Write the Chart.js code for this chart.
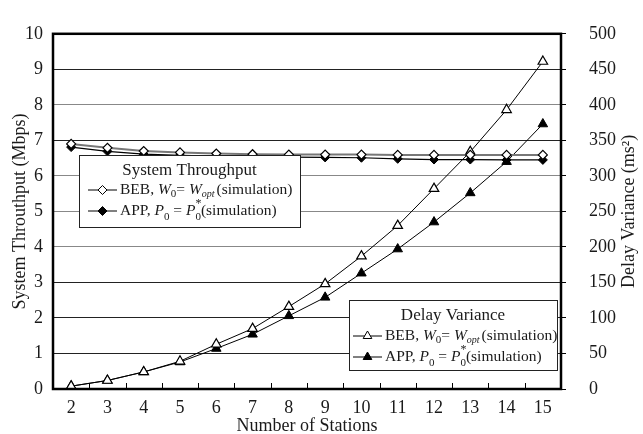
<!DOCTYPE html>
<html>
<head>
<meta charset="utf-8">
<script src="https://cdn.jsdelivr.net/npm/chart.js@4.4.0/dist/chart.umd.min.js"></script>
<style>
  html, body { margin: 0; padding: 0; background: #fff; }
</style>
</head>
<body>
<canvas id="c" width="643" height="434"></canvas>
<script>
// data
let stations = [2, 3, 4, 5, 6, 7, 8, 9, 10, 11, 12, 13, 14, 15];
let tpBEB = [6.90, 6.79, 6.70, 6.66, 6.63, 6.61, 6.60, 6.60, 6.60, 6.59, 6.59, 6.59, 6.59, 6.59];
let tpAPP = [6.81, 6.69, 6.61, 6.58, 6.56, 6.54, 6.53, 6.52, 6.51, 6.48, 6.46, 6.46, 6.45, 6.45];
let dvBEB = [4, 12, 24, 39, 63, 85, 116, 148, 187, 230, 282, 334, 393, 461];
let dvAPP = [4, 12, 24, 38, 57, 77, 103, 129, 163, 197, 235, 276, 320, 373];
let leftMax = 10, rightMax = 500;

const serif = "'Liberation Serif', 'Times New Roman', serif";
const ink = '#1a1a1a';

// writes a row of text pieces (normal / italic / sub / super)
const runs = (ctx, x, y, parts) => {
    parts.forEach(p => {
        ctx.font = (p.i ? 'italic ' : '') + (p.s || 15.5) + 'px ' + serif;
        ctx.fillText(p.t, x, y + (p.dy || 0));
        if (!p.keep) x += ctx.measureText(p.t).width + (p.gap || 0);
    });
}

const beb = [
    {t: 'BEB, '}, {t: 'W', i: true}, {t: '0', s: 11, dy: 4}, {t: '= '},
    {t: 'W', i: true}, {t: 'opt', i: true, s: 10, dy: 4, gap: 2}, {t: '(simulation)'}
];
const app = [
    {t: 'APP, '}, {t: 'P', i: true}, {t: '0', s: 11, dy: 6}, {t: ' = '},
    {t: 'P', i: true}, {t: '*', s: 12, dy: -7, keep: true}, {t: '0', s: 11, dy: 6},
    {t: '(simulation)'}
];

const drawKey = (ctx, x, y, style, fill) => {
    ctx.strokeStyle = '#000';
    ctx.lineWidth = 1;
    ctx.beginPath();
    ctx.moveTo(x, y); ctx.lineTo(x + 29, y);
    ctx.stroke();
    ctx.fillStyle = fill;
    Chart.helpers.drawPoint(ctx, {pointStyle: style, radius: style == 'triangle' ? 5 : 4.5, rotation: 0, borderWidth: 1.2}, x + 14.5, y);
}

const drawBox = (ctx, box, title, style, rowY, kx) => {
    ctx.fillStyle = '#fff';
    ctx.fillRect(box[0], box[1], box[2] - box[0], box[3] - box[1]);
    ctx.strokeStyle = '#222';
    ctx.lineWidth = 1;
    ctx.strokeRect(box[0] + .5, box[1] + .5, box[2] - box[0], box[3] - box[1]);
    ctx.fillStyle = ink;
    ctx.textBaseline = 'middle';
    ctx.textAlign = 'center';
    ctx.font = '17px ' + serif;
    ctx.fillText(title, (box[0] + box[2]) / 2, box[1] + 16);
    ctx.textAlign = 'left';
    drawKey(ctx, kx, rowY[0], style, '#fff');
    drawKey(ctx, kx, rowY[1], style, '#000');
    ctx.fillStyle = ink;
    runs(ctx, kx + 32, rowY[0], beb);
    runs(ctx, kx + 32, rowY[1], app);
}

const decor = {
    id: 'decor',
    afterDraw(chart) {
        let ctx = chart.ctx, a = chart.chartArea, xs = chart.scales.x;
        ctx.save();
        // small inner ticks between stations
        let step = xs.getPixelForValue(1) - xs.getPixelForValue(0);
        ctx.strokeStyle = '#000';
        ctx.lineWidth = 1;
        for (let i = 1; i < stations.length; i++) {
            let x = Math.round(xs.getPixelForValue(i) - step / 2) + .5;
            ctx.beginPath();
            ctx.moveTo(x, a.bottom); ctx.lineTo(x, a.bottom - 6);
            ctx.stroke();
        }
        // frame
        ctx.lineWidth = 2.5;
        ctx.strokeRect(a.left, a.top, a.right - a.left, a.bottom - a.top);

        drawBox(ctx, [79, 155, 300, 227], 'System Throughput', 'rectRot', [190, 211], 88);
        drawBox(ctx, [349, 300, 557, 370], 'Delay Variance', 'triangle', [336, 357], 353);

        // right axis title, reading bottom to top
        ctx.translate(629, (a.top + a.bottom) / 2);
        ctx.rotate(-Math.PI / 2);
        ctx.fillStyle = ink;
        ctx.textAlign = 'center';
        ctx.textBaseline = 'middle';
        ctx.font = '18px ' + serif;
        ctx.fillText('Delay Variance (ms\u00b2)', 0, 0);
        ctx.restore();
    }
};

const tickFont = {family: serif, size: 18};

new Chart(document.getElementById('c').getContext('2d'), {
    type: 'line',
    data: {
        labels: stations,
        datasets: [
            {label: 'tpBEB', data: tpBEB, yAxisID: 'y', borderColor: '#777', borderWidth: 2,
             pointStyle: 'rectRot', pointRadius: 4.5, pointBackgroundColor: '#fff', pointBorderColor: '#000', pointBorderWidth: 1.2},
            {label: 'tpAPP', data: tpAPP, yAxisID: 'y', borderColor: '#000', borderWidth: 1.2,
             pointStyle: 'rectRot', pointRadius: 4.5, pointBackgroundColor: '#000', pointBorderColor: '#000', pointBorderWidth: 1},
            {label: 'dvBEB', data: dvBEB, yAxisID: 'y2', borderColor: '#000', borderWidth: 1,
             pointStyle: 'triangle', pointRadius: 5.5, pointBackgroundColor: '#fff', pointBorderColor: '#000', pointBorderWidth: 1.2},
            {label: 'dvAPP', data: dvAPP, yAxisID: 'y2', borderColor: '#000', borderWidth: 1,
             pointStyle: 'triangle', pointRadius: 5.5, pointBackgroundColor: '#000', pointBorderColor: '#000', pointBorderWidth: 1}
        ]
    },
    options: {
        responsive: false,
        animation: false,
        layout: {padding: {top: 16, left: 0, right: 0, bottom: 0}},
        plugins: {legend: {display: false}, tooltip: {enabled: false}},
        scales: {
            x: {
                offset: true,
                grid: {display: false, drawTicks: false},
                border: {display: false},
                ticks: {font: tickFont, color: ink, padding: 8},
                title: {display: true, text: 'Number of Stations', font: tickFont, color: ink, padding: {top: 0, bottom: -3}},
                afterFit: s => { s.height = 45; }
            },
            y: {
                min: 0, max: leftMax,
                ticks: {stepSize: 1, font: tickFont, color: ink, padding: 10},
                grid: {drawTicks: false, lineWidth: 1,
                       color: c => [4, 5, 6, 8].includes(c.tick.value) ? '#888' : '#222'},
                border: {display: false},
                title: {display: true, text: 'System Throuthput (Mbps)', font: tickFont, color: ink, padding: {top: 9, bottom: 0}},
                afterFit: s => { s.width = 53; }
            },
            y2: {
                position: 'right',
                min: 0, max: rightMax,
                ticks: {stepSize: 50, font: tickFont, color: ink, padding: 23},
                grid: {drawOnChartArea: false, drawTicks: true, tickLength: 5, color: '#000'},
                border: {display: false},
                afterFit: s => { s.width = 82; }
            }
        }
    },
    plugins: [decor]
});
</script>
</body>
</html>
